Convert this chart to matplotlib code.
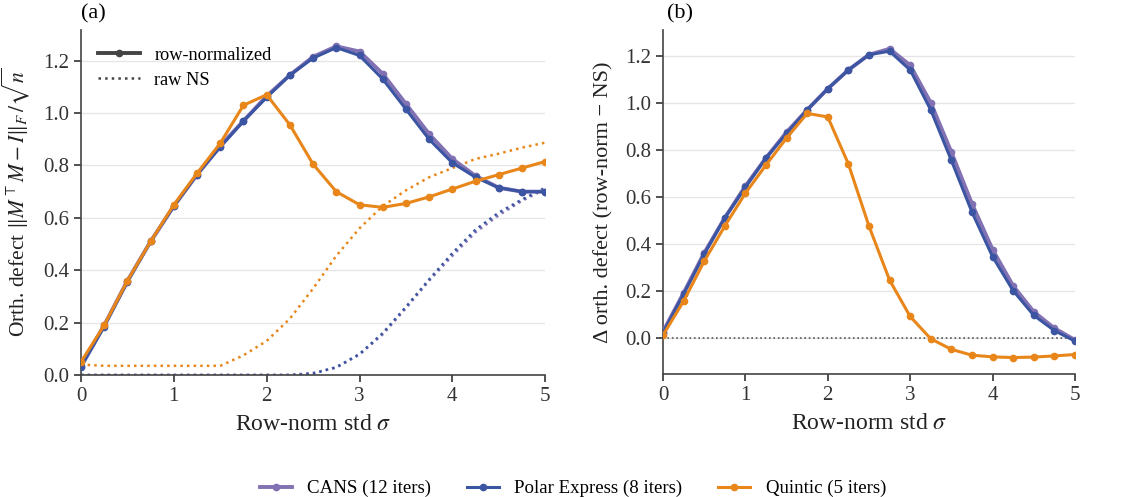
import matplotlib.pyplot as plt

plt.rcParams['font.family'] = ['Liberation Serif', 'DejaVu Serif']
plt.rcParams['mathtext.fontset'] = 'stix'
plt.rcParams['font.size'] = 15

sigma = [0.0, 0.25, 0.5, 0.75, 1.0, 1.25, 1.5, 1.75, 2.0, 2.25, 2.5,
         2.75, 3.0, 3.25, 3.5, 3.75, 4.0, 4.25, 4.5, 4.75, 5.0]

# orthogonality defect after row normalization
cans_row = [0.035, 0.19, 0.36, 0.51, 0.645, 0.765, 0.875, 0.97, 1.065, 1.145, 1.215,
            1.255, 1.235, 1.15, 1.035, 0.92, 0.825, 0.76, 0.715, 0.70, 0.70]
pe_row = [0.03, 0.185, 0.355, 0.51, 0.645, 0.765, 0.87, 0.97, 1.06, 1.145, 1.21,
          1.25, 1.22, 1.13, 1.015, 0.90, 0.81, 0.755, 0.715, 0.70, 0.70]
quin_row = [0.05, 0.19, 0.36, 0.51, 0.65, 0.77, 0.885, 1.03, 1.07, 0.955, 0.805,
            0.70, 0.65, 0.64, 0.655, 0.68, 0.71, 0.74, 0.765, 0.79, 0.815]

# orthogonality defect of plain Newton-Schulz
cans_raw = [0.0, 0.0, 0.0, 0.0, 0.0, 0.0, 0.0, 0.0, 0.0, 0.0, 0.008,
            0.028, 0.078, 0.155, 0.255, 0.36, 0.455, 0.545, 0.61, 0.665, 0.71]
pe_raw = [0.0, 0.0, 0.0, 0.0, 0.0, 0.0, 0.0, 0.0, 0.0, 0.0, 0.005,
          0.03, 0.08, 0.16, 0.26, 0.365, 0.465, 0.555, 0.62, 0.67, 0.715]
quin_raw = [0.04, 0.035, 0.035, 0.035, 0.035, 0.035, 0.035, 0.075, 0.13, 0.215, 0.33,
            0.455, 0.56, 0.645, 0.705, 0.755, 0.79, 0.825, 0.845, 0.868, 0.887]

# difference row-norm minus NS
cans_delta = [0.025, 0.19, 0.36, 0.51, 0.645, 0.765, 0.875, 0.97, 1.06, 1.14, 1.205,
              1.23, 1.16, 1.0, 0.79, 0.57, 0.375, 0.22, 0.11, 0.04, -0.01]
pe_delta = [0.02, 0.185, 0.355, 0.51, 0.64, 0.765, 0.87, 0.97, 1.06, 1.14, 1.205,
            1.22, 1.14, 0.97, 0.755, 0.535, 0.345, 0.20, 0.095, 0.03, -0.015]
quin_delta = [0.01, 0.155, 0.325, 0.475, 0.615, 0.735, 0.85, 0.955, 0.94, 0.74, 0.475,
              0.245, 0.09, -0.005, -0.05, -0.075, -0.082, -0.085, -0.083, -0.078, -0.072]

labels = ['CANS (12 iters)', 'Polar Express (8 iters)', 'Quintic (5 iters)']
colors = ['#8271b3', '#3b55a3', '#e8861a']
widths = [2.8, 2.2, 2.2]

fig = plt.figure(figsize=(11.46, 4.97), dpi=100)
ax1 = fig.add_axes([0.0707, 0.2455, 0.405, 0.694])
ax2 = fig.add_axes([0.5785, 0.2475, 0.3595, 0.692])

rows = [cans_row, pe_row, quin_row]
raws = [cans_raw, pe_raw, quin_raw]
deltas = [cans_delta, pe_delta, quin_delta]

handles = []
for i in range(3):
    h, = ax1.plot(sigma, rows[i], color=colors[i], lw=widths[i], marker='o',
                  ms=4.5, label=labels[i], zorder=3)
    handles.append(h)
    ax1.plot(sigma, raws[i], color=colors[i], lw=1.8, ls=':', zorder=2)
    ax2.plot(sigma, deltas[i], color=colors[i], lw=widths[i], marker='o',
             ms=4.5, zorder=3)

ax2.axhline(0, color='#555555', lw=1.2, ls=':', zorder=1)

ax1.set_ylim(0, 1.317)
ax2.set_ylim(-0.155, 1.31)
for ax in (ax1, ax2):
    ax.set_xlim(0, 5)
    ax.set_xticks([0, 1, 2, 3, 4, 5])
    ax.set_yticks([0.0, 0.2, 0.4, 0.6, 0.8, 1.0, 1.2])
    ax.set_yticklabels(['0.0', '0.2', '0.4', '0.6', '0.8', '1.0', '1.2'])
    ax.grid(axis='y', color='#e6e6e6', lw=1.0)
    ax.set_axisbelow(True)
    for s in ('top', 'right'):
        ax.spines[s].set_visible(False)
    for s in ('left', 'bottom'):
        ax.spines[s].set_color('#444444')
        ax.spines[s].set_linewidth(1.2)
    ax.tick_params(colors='#333333', width=1.2, length=5, labelsize=15)
    ax.set_xlabel(r'Row-norm std $\sigma$', fontsize=17, color='#222222', labelpad=6)

ax1.set_ylabel(r'Orth. defect $\|M^{\top}M - I\|_F\,/\sqrt{n}$', fontsize=15.5,
               color='#222222', labelpad=8)
ax2.set_ylabel('Δ orth. defect (row-norm − NS)', fontsize=16, color='#222222', labelpad=8)

ax1.text(0.0, 1.02, '(a)', transform=ax1.transAxes, fontsize=16, ha='left', va='bottom')
ax2.text(0.01, 1.02, '(b)', transform=ax2.transAxes, fontsize=16, ha='left', va='bottom')

style_handles = [
    plt.Line2D([], [], color='#444444', lw=2.8, marker='o', ms=4.5),
    plt.Line2D([], [], color='#444444', lw=1.8, ls=':'),
]
ax1.legend(style_handles, ['row-normalized', 'raw NS'], loc='upper left',
           bbox_to_anchor=(0.0, 1.0), frameon=False, fontsize=13.2,
           handlelength=2.3, labelspacing=0.45)

fig.legend(handles, labels, loc='lower center', ncol=3, frameon=False,
           bbox_to_anchor=(0.5, -0.035), fontsize=13.6, columnspacing=1.9,
           handlelength=1.7)

fig.savefig('out.png', dpi=100)
